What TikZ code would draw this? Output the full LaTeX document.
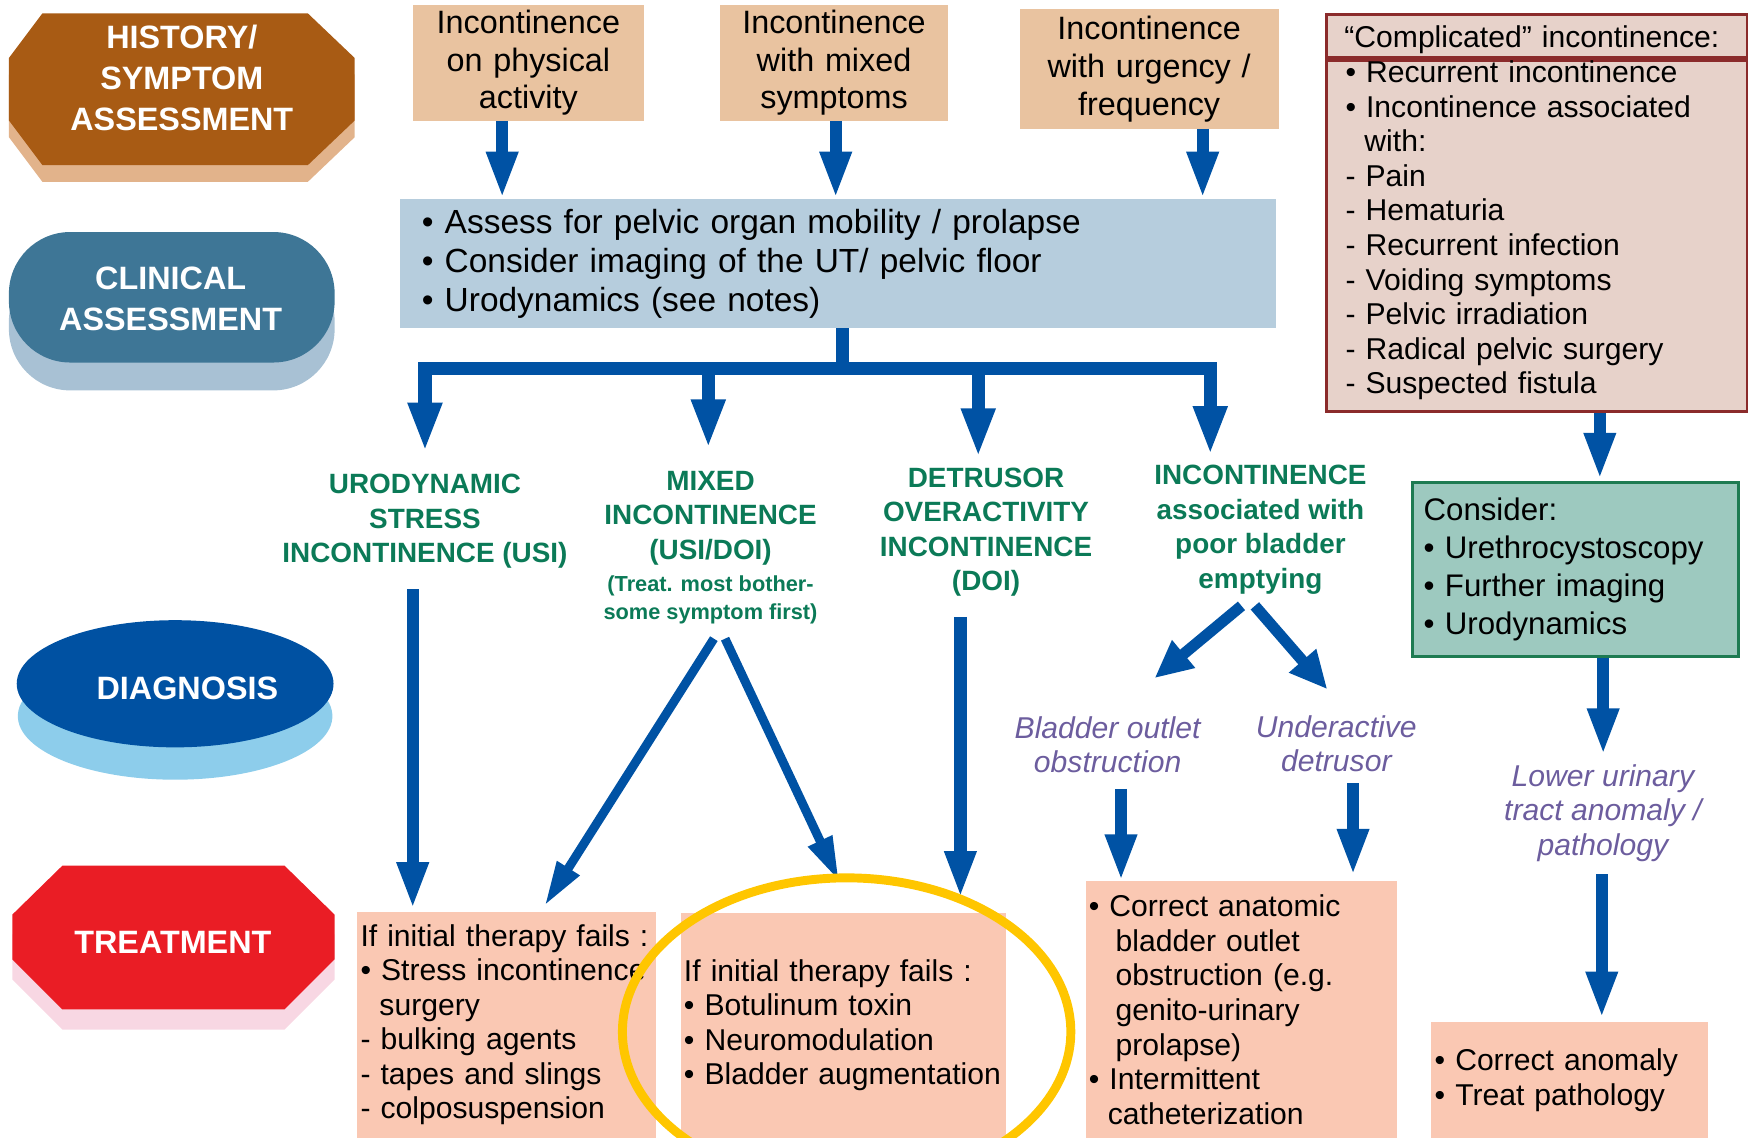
\documentclass[tikz,border=0pt]{standalone}
\usepackage{fontspec}
\setmainfont{Liberation Sans}
\usetikzlibrary{arrows.meta,calc}
\definecolor{arrowblue}{HTML}{0052A4}
\definecolor{tanbox}{HTML}{E9C3A0}
\definecolor{clinbox}{HTML}{B6CDDD}
\definecolor{histbrown}{HTML}{A85B14}
\definecolor{histshadow}{HTML}{E2B38B}
\definecolor{clintitle}{HTML}{3E7696}
\definecolor{clinshadow}{HTML}{A8C1D4}
\definecolor{diagblue}{HTML}{0051A2}
\definecolor{diagshadow}{HTML}{8DCDEB}
\definecolor{treatred}{HTML}{EA1D25}
\definecolor{treatshadow}{HTML}{F8D7E3}
\definecolor{salmon}{HTML}{FAC8B3}
\definecolor{compfill}{HTML}{E7D2CA}
\definecolor{compborder}{HTML}{8B2B2B}
\definecolor{consfill}{HTML}{9DC9BF}
\definecolor{consborder}{HTML}{1E7B52}
\definecolor{labelgreen}{HTML}{0B7A57}
\definecolor{labelpurple}{HTML}{6C5D9E}
\definecolor{ringyellow}{HTML}{FFC600}
\begin{document}
\begin{tikzpicture}[x=1pt,y=-1pt,
  title/.style={text=white,font=\fontsize{29}{37}\selectfont\bfseries,align=center,inner sep=0pt},
  tanbox/.style={anchor=north west,fill=tanbox,align=center,inner sep=4pt,font=\fontsize{29}{34}\selectfont},
  salbox/.style={anchor=north west,fill=salmon,align=left,inner xsep=3pt,inner ysep=0pt,font=\fontsize{27}{31}\selectfont},
  diaglabel/.style={anchor=north,text=labelgreen,font=\fontsize{25}{31}\selectfont\bfseries,align=center,inner sep=0pt},
  purplelabel/.style={anchor=north,text=labelpurple,font=\fontsize{27}{31}\selectfont\itshape,align=center,inner sep=0pt},
  arr/.style={draw=arrowblue,line width=11pt,-{Triangle[length=42pt,width=26pt]}},
  distr/.style={draw=arrowblue,line width=12pt,-{Triangle[length=44pt,width=28pt]}},
  thinarr/.style={draw=arrowblue,line width=8pt,-{Triangle[length=40pt,width=22pt]}},
  fanarr/.style={draw=arrowblue,line width=10pt,-{Triangle[length=34pt,width=30pt]}}
]
\useasboundingbox (0,0) rectangle (1568,1020);

% ---- left column titles ----
\fill[histshadow] (38,27) -- (276,27) -- (318,67) -- (318,123) -- (276,163) -- (38,163) -- (8,123) -- (8,67) -- cycle;
\fill[histbrown] (38,12) -- (276,12) -- (318,52) -- (318,108) -- (276,148) -- (38,148) -- (8,108) -- (8,52) -- cycle;
\node[title] (hist) at (163,70) {HISTORY/\\SYMPTOM\\ASSESSMENT};

\fill[clinshadow,rounded corners=55pt] (8,233) rectangle (300,350);
\fill[clintitle,rounded corners=55pt] (8,208) rectangle (300,325);
\node[title] (clintitle) at (153,268) {CLINICAL\\ASSESSMENT};

\fill[diagshadow] (157,642) ellipse [x radius=141pt, y radius=57pt];
\fill[diagblue] (157,613) ellipse [x radius=142pt, y radius=57pt];
\node[title] (diagtitle) at (168,617) {DIAGNOSIS};

\fill[treatshadow] (56,794) -- (255,794) -- (300,838) -- (300,878) -- (255,923) -- (56,923) -- (11,878) -- (11,838) -- cycle;
\fill[treatred] (56,776) -- (255,776) -- (300,820) -- (300,860) -- (255,905) -- (56,905) -- (11,860) -- (11,820) -- cycle;
\node[title] (treattitle) at (155,845) {TREATMENT};

% ---- top symptom boxes ----
\node[tanbox,minimum width=207pt,minimum height=104pt,text width=199pt] (b1) at (370,4) {Incontinence\\on physical\\activity};
\node[tanbox,minimum width=205pt,minimum height=104pt,text width=197pt] (b2) at (645,4) {Incontinence\\with mixed\\symptoms};
\node[tanbox,minimum width=232pt,minimum height=107pt,text width=224pt] (b3) at (914,8) {Incontinence\\with urgency /\\frequency};

% ---- clinical assessment box ----
\node[anchor=north west,fill=clinbox,minimum width=786pt,minimum height=116pt,text width=746pt,inner xsep=20pt,inner ysep=0pt,align=left,font=\fontsize{30}{35}\selectfont] (clin) at (358,178)
  {• Assess for pelvic organ mobility / prolapse\\• Consider imaging of the UT/ pelvic floor\\• Urodynamics (see notes)};

% ---- complicated incontinence ----
\node[anchor=north west,fill=compfill,draw=compborder,line width=2.5pt,minimum width=377pt,minimum height=38pt,text width=345pt,inner xsep=16pt,inner ysep=0pt,align=left,font=\fontsize{27}{31}\selectfont] (comphead) at (1188,12)
  {\rule{0pt}{27pt}“Complicated” incontinence:};
\node[anchor=north west,fill=compfill,draw=compborder,line width=2.5pt,minimum width=377pt,minimum height=315pt,text width=343pt,inner xsep=17pt,inner ysep=0pt,align=left,font=\fontsize{27}{31}\selectfont] (compbody) at (1188,53)
  {• Recurrent incontinence\\• Incontinence associated\\\hspace*{17pt}with:\\- Pain\\- Hematuria\\- Recurrent infection\\- Voiding symptoms\\- Pelvic irradiation\\- Radical pelvic surgery\\- Suspected fistula\rule[-16pt]{0pt}{0pt}};

\node[anchor=north west,fill=consfill,draw=consborder,line width=2.5pt,minimum width=292pt,minimum height=156pt,text width=272pt,inner xsep=10pt,inner ysep=0pt,align=left,font=\fontsize{28}{34}\selectfont] (cons) at (1265,431)
  {Consider:\\• Urethrocystoscopy\\• Further imaging\\• Urodynamics};

% ---- diagnosis labels ----
\node[diaglabel] (usi) at (381,425) {URODYNAMIC\\STRESS\\INCONTINENCE (USI)};
\node[diaglabel] (mixed) at (637,422) {MIXED\\INCONTINENCE\\(USI/DOI)};
\node[diaglabel,font=\fontsize{19.5}{25}\selectfont\bfseries] (mixednote) at (637,516) {(Treat. most bother-\\some symptom first)};
\node[diaglabel] (det) at (884,419) {DETRUSOR\\OVERACTIVITY\\INCONTINENCE\\(DOI)};
\node[diaglabel] (poor) at (1130,417) {INCONTINENCE\\associated with\\poor bladder\\emptying};

\node[purplelabel] (boo) at (993,642) {Bladder outlet\\obstruction};
\node[purplelabel] (under) at (1198,641) {Underactive\\detrusor};
\node[purplelabel] (lower) at (1437,685) {Lower urinary\\tract anomaly /\\pathology};

% ---- treatment boxes ----
\node[salbox,minimum width=268pt,minimum height=203pt,text width=262pt] (t1) at (320,817)
  {If initial therapy fails :\\• Stress incontinence\\\hspace*{17pt}surgery\\- bulking agents\\- tapes and slings\\- colposuspension};
\node[salbox,minimum width=292pt,minimum height=202pt,text width=286pt] (t2) at (610,818)
  {If initial therapy fails :\\• Botulinum toxin\\• Neuromodulation\\• Bladder augmentation};
\node[salbox,minimum width=279pt,minimum height=230pt,text width=273pt] (t3) at (973,790)
  {• Correct anatomic\\\hspace*{24pt}bladder outlet\\\hspace*{24pt}obstruction (e.g.\\\hspace*{24pt}genito-urinary\\\hspace*{24pt}prolapse)\\• Intermittent\\\hspace*{17pt}catheterization};
\node[salbox,minimum width=248pt,minimum height=104pt,text width=242pt] (t4) at (1283,916)
  {• Correct anomaly\\• Treat pathology};

% ---- arrows ----
\draw[arr] ([xshift=-23.5pt]b1.south) -- ([xshift=-23.5pt]b1.south |- clin.north);
\draw[arr] ([xshift=1.5pt]b2.south) -- ([xshift=1.5pt]b2.south |- clin.north);
\draw[arr] ([xshift=48pt]b3.south) -- ([xshift=48pt]b3.south |- clin.north);

\draw[distr] ([xshift=4pt]clin.south) -- ++(0,36) -| ([yshift=20pt]usi.north);
\draw[distr] ([xshift=4pt]clin.south) -- ++(0,36) -| ([xshift=-2pt,yshift=20pt]mixed.north);
\draw[distr] ([xshift=4pt]clin.south) -- ++(0,36) -| ([xshift=-7pt,yshift=9pt]det.north);
\draw[distr] ([xshift=4pt]clin.south) -- ++(0,36) -| ([xshift=-45pt,yshift=9pt]poor.north);

\draw[arr] ([xshift=-11pt,yshift=-18pt]usi.south) -- ([xshift=-11pt,yshift=2pt]usi.south |- t1.north);
\draw[thinarr] ([xshift=3pt,yshift=-13pt]mixednote.south) -- ([xshift=34pt,yshift=5pt]t1.north);
\draw[thinarr] ([xshift=13pt,yshift=-13pt]mixednote.south) -- ([xshift=-4pt,yshift=28pt]t2.north);
\draw[arr] ([xshift=-23pt,yshift=-18pt]det.south) -- ([xshift=-23pt,yshift=13pt]det.south |- t2.north);

\draw[fanarr] ([xshift=-17pt,yshift=-10pt]poor.south) -- ([xshift=42pt,yshift=34pt]boo.north);
\draw[fanarr] ([xshift=-5pt,yshift=-10pt]poor.south) -- ([xshift=-8pt,yshift=23pt]under.north);
\draw[arr] ([xshift=12pt,yshift=-14pt]boo.south) -- ([xshift=12pt]boo.south |- t3.north);
\draw[arr] ([xshift=15pt,yshift=-10pt]under.south) -- ([xshift=15pt,yshift=5pt]under.south |- t3.north);

\draw[arr] ([xshift=56.5pt]compbody.south) -- ([xshift=56.5pt,yshift=1pt]compbody.south |- cons.north);
\draw[arr] ([xshift=25pt]cons.south) -- ([xshift=25pt,yshift=8pt]cons.south |- lower.north);
\draw[arr] ([xshift=-1pt,yshift=-11pt]lower.south) -- ([xshift=-1pt,yshift=3pt]lower.south |- t4.north);

% ---- highlight ring ----
\draw[ringyellow,line width=8pt] (759,925) ellipse [x radius=201pt, y radius=138pt];
\end{tikzpicture}
\end{document}
